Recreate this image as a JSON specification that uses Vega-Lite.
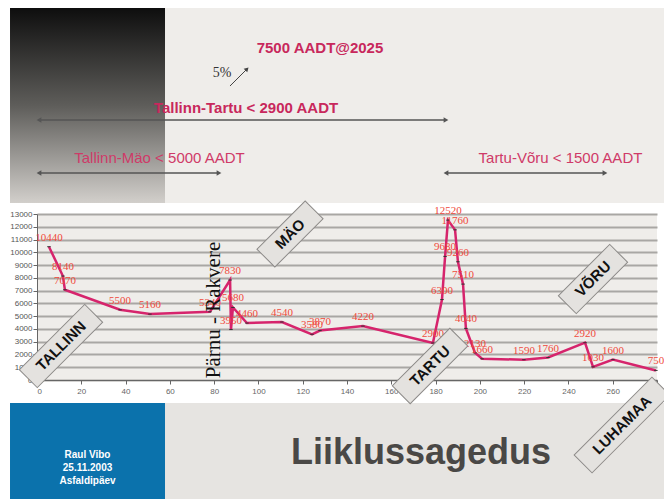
{
  "$schema": "https://vega.github.io/schema/vega-lite/v6.json",
  "autosize": {"type": "none"},
  "width": 620,
  "height": 166,
  "padding": {"left": 37, "top": 214, "right": 7, "bottom": 119},
  "background": "white",
  "config": {
    "view": {"fill": "#efedea", "stroke": null},
    "font": "Liberation Sans"
  },
  "resolve": {"scale": {"x": "independent", "y": "independent"}, "axis": {"x": "independent", "y": "independent"}},
  "datasets": {
    "traffic": [
      {"i": 1, "km": 5.4, "aadt": 10440},
      {"i": 2, "km": 11.7, "aadt": 8140},
      {"i": 3, "km": 12.6, "aadt": 7070},
      {"i": 4, "km": 37.5, "aadt": 5500},
      {"i": 5, "km": 51, "aadt": 5160},
      {"i": 6, "km": 78.1, "aadt": 5340},
      {"i": 7, "km": 87.2, "aadt": 7830},
      {"i": 8, "km": 87.6, "aadt": 3950},
      {"i": 9, "km": 88.5, "aadt": 5680},
      {"i": 10, "km": 94.8, "aadt": 4460},
      {"i": 11, "km": 110.6, "aadt": 4540},
      {"i": 12, "km": 124.2, "aadt": 3580},
      {"i": 13, "km": 127.8, "aadt": 3870},
      {"i": 14, "km": 147.2, "aadt": 4220},
      {"i": 15, "km": 178.8, "aadt": 2900},
      {"i": 16, "km": 182.9, "aadt": 6300},
      {"i": 17, "km": 184.3, "aadt": 9680},
      {"i": 18, "km": 185.6, "aadt": 12520},
      {"i": 19, "km": 188.8, "aadt": 11760},
      {"i": 20, "km": 190.1, "aadt": 9260},
      {"i": 21, "km": 192.4, "aadt": 7510},
      {"i": 22, "km": 193.7, "aadt": 4040},
      {"i": 23, "km": 197.8, "aadt": 2130},
      {"i": 24, "km": 201, "aadt": 1660},
      {"i": 25, "km": 219.9, "aadt": 1590},
      {"i": 26, "km": 230.8, "aadt": 1760},
      {"i": 27, "km": 247.5, "aadt": 2920},
      {"i": 28, "km": 251.1, "aadt": 1030},
      {"i": 29, "km": 260.1, "aadt": 1600},
      {"i": 30, "km": 279.5, "aadt": 750}
    ],
    "places": [
      {"name": "TALLINN", "km": 10.84, "aadt": 2663},
      {"name": "MÄO", "km": 114.26, "aadt": 11434},
      {"name": "TARTU", "km": 177.5, "aadt": 1100},
      {"name": "VÕRU", "km": 251.09, "aadt": 7910},
      {"name": "LUHAMAA", "km": 264.19, "aadt": -3524}
    ]
  },
  "layer": [
    {
      "data": {"name": "traffic"},
      "mark": {"type": "line", "color": "#d6246c", "strokeWidth": 2.5},
      "encoding": {
        "x": {
          "field": "km", "type": "quantitative", "title": null,
          "scale": {"domain": [0, 280], "nice": false, "zero": false},
          "axis": {"values": [0, 20, 40, 60, 80, 100, 120, 140, 160, 180, 200, 220, 240, 260, 280], "grid": false, "domainColor": "#666666", "tickColor": "#666666", "tickSize": 4, "labelFontSize": 8, "labelColor": "#666666", "labelFont": "Liberation Sans", "labelPadding": 3}
        },
        "y": {
          "field": "aadt", "type": "quantitative", "title": null,
          "scale": {"domain": [0, 13000], "nice": false, "zero": false},
          "axis": {"values": [0, 1000, 2000, 3000, 4000, 5000, 6000, 7000, 8000, 9000, 10000, 11000, 12000, 13000], "labelOverlap": false, "format": "d", "grid": true, "gridColor": "#a9a7a4", "gridWidth": 2, "gridOpacity": 1, "domainColor": "#666666", "tickColor": "#666666", "tickSize": 4, "labelFontSize": 8, "labelColor": "#555555", "labelFont": "Liberation Sans", "labelPadding": 1}
        },
        "order": {"field": "i"}
      }
    },
    {
      "data": {"values": [{}]},
      "mark": {"type": "rect", "color": "#efedea"},
      "encoding": {
        "x": {"datum": -12.19, "type": "quantitative", "axis": null, "scale": {"domain": [0, 280], "nice": false, "zero": false}},
        "x2": {"datum": 283.16},
        "y": {"datum": 29132, "type": "quantitative", "axis": null, "scale": {"domain": [0, 13000], "nice": false, "zero": false}},
        "y2": {"datum": 13861}
      }
    },
    {
      "data": {"values": [{}]},
      "mark": {"type": "rect", "color": {"gradient": "linear", "x1": 0, "y1": 0, "x2": 0, "y2": 1, "stops": [{"offset": 0, "color": "#0e0e0e"}, {"offset": 0.5, "color": "#5e5d5a"}, {"offset": 1, "color": "#d2cfcb"}]}},
      "encoding": {
        "x": {"datum": -12.19, "type": "quantitative", "axis": null, "scale": {"domain": [0, 280], "nice": false, "zero": false}},
        "x2": {"datum": 57.81},
        "y": {"datum": 29132, "type": "quantitative", "axis": null, "scale": {"domain": [0, 13000], "nice": false, "zero": false}},
        "y2": {"datum": 13861}
      }
    },
    {
      "data": {"values": [{}]},
      "mark": {"type": "rect", "color": "#e6e4e1"},
      "encoding": {
        "x": {"datum": -12.19, "type": "quantitative", "axis": null, "scale": {"domain": [0, 280], "nice": false, "zero": false}},
        "x2": {"datum": 283.16},
        "y": {"datum": -1801, "type": "quantitative", "axis": null, "scale": {"domain": [0, 13000], "nice": false, "zero": false}},
        "y2": {"datum": -9319}
      }
    },
    {
      "data": {"values": [{}]},
      "mark": {"type": "rect", "color": "#0b72ac"},
      "encoding": {
        "x": {"datum": -12.19, "type": "quantitative", "axis": null, "scale": {"domain": [0, 280], "nice": false, "zero": false}},
        "x2": {"datum": 57.81},
        "y": {"datum": -1801, "type": "quantitative", "axis": null, "scale": {"domain": [0, 13000], "nice": false, "zero": false}},
        "y2": {"datum": -9319}
      }
    },
    {
      "data": {"values": [{"a": 1.35, "b": 184.26, "v": 20361}, {"a": 1.35, "b": 81.74, "v": 16211}, {"a": 185.2, "b": 256.06, "v": 16211}]},
      "mark": {"type": "rule", "color": "#555555", "strokeWidth": 1.5},
      "encoding": {
        "x": {"field": "a", "type": "quantitative", "axis": null, "scale": {"domain": [0, 280], "nice": false, "zero": false}},
        "x2": {"field": "b"},
        "y": {"field": "v", "type": "quantitative", "axis": null, "scale": {"domain": [0, 13000], "nice": false, "zero": false}}
      }
    },
    {
      "data": {"values": [{"k": 0.9, "v": 20361}, {"k": 0.9, "v": 16211}, {"k": 184.7, "v": 16211}]},
      "mark": {"type": "point", "shape": "triangle-left", "filled": true, "color": "#555555", "size": 30, "opacity": 1},
      "encoding": {
        "x": {"field": "k", "type": "quantitative", "axis": null, "scale": {"domain": [0, 280], "nice": false, "zero": false}},
        "y": {"field": "v", "type": "quantitative", "axis": null, "scale": {"domain": [0, 13000], "nice": false, "zero": false}}
      }
    },
    {
      "data": {"values": [{"k": 184.7, "v": 20361}, {"k": 82.2, "v": 16211}, {"k": 256.5, "v": 16211}]},
      "mark": {"type": "point", "shape": "triangle-right", "filled": true, "color": "#555555", "size": 30, "opacity": 1},
      "encoding": {
        "x": {"field": "k", "type": "quantitative", "axis": null, "scale": {"domain": [0, 280], "nice": false, "zero": false}},
        "y": {"field": "v", "type": "quantitative", "axis": null, "scale": {"domain": [0, 13000], "nice": false, "zero": false}}
      }
    },
    {
      "data": {"values": [{}]},
      "mark": {"type": "rule", "color": "#444444", "strokeWidth": 1},
      "encoding": {
        "x": {"datum": 87.16, "type": "quantitative", "axis": null, "scale": {"domain": [0, 280], "nice": false, "zero": false}},
        "x2": {"datum": 94.39},
        "y": {"datum": 23024, "type": "quantitative", "axis": null, "scale": {"domain": [0, 13000], "nice": false, "zero": false}},
        "y2": {"datum": 24277}
      }
    },
    {
      "data": {"values": [{}]},
      "mark": {"type": "point", "shape": "triangle-up", "angle": 45, "filled": true, "color": "#444444", "size": 25, "opacity": 1},
      "encoding": {
        "x": {"datum": 94.84, "type": "quantitative", "axis": null, "scale": {"domain": [0, 280], "nice": false, "zero": false}},
        "y": {"datum": 24355, "type": "quantitative", "axis": null, "scale": {"domain": [0, 13000], "nice": false, "zero": false}}
      }
    },
    {
      "data": {"values": [{}]},
      "mark": {"type": "text", "text": "7500 AADT@2025", "font": "Liberation Sans", "fontSize": 15, "fontWeight": "bold", "color": "#c8285c", "baseline": "middle"},
      "encoding": {
        "x": {"datum": 127.8, "type": "quantitative", "axis": null, "scale": {"domain": [0, 280], "nice": false, "zero": false}},
        "y": {"datum": 26000, "type": "quantitative", "axis": null, "scale": {"domain": [0, 13000], "nice": false, "zero": false}}
      }
    },
    {
      "data": {"values": [{}]},
      "mark": {"type": "text", "text": "5%", "font": "Liberation Serif", "fontSize": 14, "color": "#333333", "baseline": "middle"},
      "encoding": {
        "x": {"datum": 83.55, "type": "quantitative", "axis": null, "scale": {"domain": [0, 280], "nice": false, "zero": false}},
        "y": {"datum": 24042, "type": "quantitative", "axis": null, "scale": {"domain": [0, 13000], "nice": false, "zero": false}}
      }
    },
    {
      "data": {"values": [{}]},
      "mark": {"type": "text", "text": "Tallinn-Tartu < 2900 AADT", "font": "Liberation Sans", "fontSize": 15, "fontWeight": "bold", "color": "#c8285c", "baseline": "middle"},
      "encoding": {
        "x": {"datum": 94.39, "type": "quantitative", "axis": null, "scale": {"domain": [0, 280], "nice": false, "zero": false}},
        "y": {"datum": 21301, "type": "quantitative", "axis": null, "scale": {"domain": [0, 13000], "nice": false, "zero": false}}
      }
    },
    {
      "data": {"values": [{}]},
      "mark": {"type": "text", "text": "Tallinn-Mäo < 5000 AADT", "font": "Liberation Sans", "fontSize": 15, "color": "#cf3a68", "baseline": "middle"},
      "encoding": {
        "x": {"datum": 55.32, "type": "quantitative", "axis": null, "scale": {"domain": [0, 280], "nice": false, "zero": false}},
        "y": {"datum": 17385, "type": "quantitative", "axis": null, "scale": {"domain": [0, 13000], "nice": false, "zero": false}}
      }
    },
    {
      "data": {"values": [{}]},
      "mark": {"type": "text", "text": "Tartu-Võru < 1500 AADT", "font": "Liberation Sans", "fontSize": 15, "color": "#cf3a68", "baseline": "middle"},
      "encoding": {
        "x": {"datum": 236.4, "type": "quantitative", "axis": null, "scale": {"domain": [0, 280], "nice": false, "zero": false}},
        "y": {"datum": 17385, "type": "quantitative", "axis": null, "scale": {"domain": [0, 13000], "nice": false, "zero": false}}
      }
    },
    {
      "data": {"name": "traffic"},
      "mark": {"type": "point", "shape": "stroke", "color": "#333333", "size": 12, "strokeWidth": 1, "opacity": 1},
      "encoding": {
        "x": {"field": "km", "type": "quantitative", "axis": null, "scale": {"domain": [0, 280], "nice": false, "zero": false}},
        "y": {"field": "aadt", "type": "quantitative", "axis": null, "scale": {"domain": [0, 13000], "nice": false, "zero": false}}
      }
    },
    {
      "data": {"name": "traffic"},
      "mark": {"type": "text", "font": "Liberation Serif", "fontSize": 11, "color": "#ef4a3c", "dy": -9, "baseline": "middle"},
      "encoding": {
        "x": {"field": "km", "type": "quantitative", "axis": null, "scale": {"domain": [0, 280], "nice": false, "zero": false}},
        "y": {"field": "aadt", "type": "quantitative", "axis": null, "scale": {"domain": [0, 13000], "nice": false, "zero": false}},
        "text": {"field": "aadt", "type": "quantitative", "format": "d"}
      }
    },
    {
      "data": {"values": [{}]},
      "mark": {"type": "text", "text": "Pärnu - Rakvere", "font": "Liberation Serif", "fontSize": 21, "color": "#111111", "angle": 270, "baseline": "middle", "align": "center"},
      "encoding": {
        "x": {"datum": 79.71, "type": "quantitative", "axis": null, "scale": {"domain": [0, 280], "nice": false, "zero": false}},
        "y": {"datum": 5482, "type": "quantitative", "axis": null, "scale": {"domain": [0, 13000], "nice": false, "zero": false}}
      }
    },
    {
      "data": {"name": "places"},
      "mark": {"type": "point", "filled": true, "fill": "#e4e2df", "stroke": "#8c8a88", "strokeWidth": 1, "size": 12100, "angle": -45, "opacity": 1, "fillOpacity": 1},
      "encoding": {
        "x": {"field": "km", "type": "quantitative", "axis": null, "scale": {"domain": [0, 280], "nice": false, "zero": false}},
        "y": {"field": "aadt", "type": "quantitative", "axis": null, "scale": {"domain": [0, 13000], "nice": false, "zero": false}},
        "shape": {
          "field": "name", "type": "nominal", "legend": null,
          "scale": {
            "domain": ["TALLINN", "MÄO", "TARTU", "VÕRU", "LUHAMAA"],
            "range": [
              "M-0.84,-0.23L0.84,-0.23L0.84,0.23L-0.84,0.23Z",
              "M-0.62,-0.23L0.62,-0.23L0.62,0.23L-0.62,0.23Z",
              "M-0.74,-0.23L0.74,-0.23L0.74,0.23L-0.74,0.23Z",
              "M-0.66,-0.23L0.66,-0.23L0.66,0.23L-0.66,0.23Z",
              "M-1,-0.23L1,-0.23L1,0.23L-1,0.23Z"
            ]
          }
        }
      }
    },
    {
      "data": {"name": "places"},
      "mark": {"type": "text", "font": "Liberation Sans", "fontSize": 15, "fontWeight": "bold", "color": "#111111", "angle": -45, "baseline": "middle", "align": "center"},
      "encoding": {
        "x": {"field": "km", "type": "quantitative", "axis": null, "scale": {"domain": [0, 280], "nice": false, "zero": false}},
        "y": {"field": "aadt", "type": "quantitative", "axis": null, "scale": {"domain": [0, 13000], "nice": false, "zero": false}},
        "text": {"field": "name", "type": "nominal"}
      }
    },
    {
      "data": {"values": [{}]},
      "mark": {"type": "text", "text": ["Raul Vibo", "25.11.2003", "Asfaldipäev"], "lineHeight": 13, "font": "Liberation Sans", "fontSize": 10, "fontWeight": "bold", "color": "#ffffff", "baseline": "middle", "align": "center"},
      "encoding": {
        "x": {"datum": 22.81, "type": "quantitative", "axis": null, "scale": {"domain": [0, 280], "nice": false, "zero": false}},
        "y": {"datum": -5873, "type": "quantitative", "axis": null, "scale": {"domain": [0, 13000], "nice": false, "zero": false}}
      }
    },
    {
      "data": {"values": [{}]},
      "mark": {"type": "text", "text": "Liiklussagedus", "font": "Liberation Sans", "fontSize": 36, "fontWeight": "bold", "color": "#4a4846", "baseline": "middle", "align": "center"},
      "encoding": {
        "x": {"datum": 173.42, "type": "quantitative", "axis": null, "scale": {"domain": [0, 280], "nice": false, "zero": false}},
        "y": {"datum": -5717, "type": "quantitative", "axis": null, "scale": {"domain": [0, 13000], "nice": false, "zero": false}}
      }
    }
  ]
}
